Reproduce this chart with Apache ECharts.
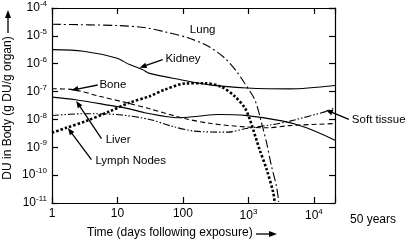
<!DOCTYPE html>
<html>
<head>
<meta charset="utf-8">
<script src="https://cdn.jsdelivr.net/npm/echarts@6/dist/echarts.min.js"></script>
<style>
  html, body { margin: 0; padding: 0; background: #fff; }
  #chart { width: 407px; height: 241px; }
</style>
</head>
<body>
<div id="chart"></div>
<script>
// values (days since exposure, g DU / g organ)
const lungDays = [1, 10, 27.5, 52.5, 119, 240, 434, 655, 874, 1250, 1585, 1900, 2250, 2680, 2900]
const lungDU = [2.6e-5, 2.35e-5, 1.94e-5, 1.4e-5, 8.5e-6, 4.3e-6, 1.6e-6, 5.4e-7, 2.0e-7, 5.1e-8, 7.6e-9, 1.4e-9, 2.1e-10, 4e-11, 1.1e-11]

const kidneyDays = [1, 3, 9.6, 15.3, 24, 31, 89, 272, 940, 4300, 21000]
const kidneyDU = [3.2e-6, 2.8e-6, 1.6e-6, 9.3e-7, 6.2e-7, 4.5e-7, 2.7e-7, 1.7e-7, 1.35e-7, 1.25e-7, 1.65e-7]

const boneDays = [1, 1.96, 5.3, 13.6, 31, 106, 272, 880, 1900, 4300, 21000]
const boneDU = [1.26e-7, 1.2e-7, 6.8e-8, 4e-8, 2.4e-8, 1.08e-8, 7.1e-9, 5.4e-9, 5e-9, 6e-9, 7.1e-9]

const liverDays = [1, 2.3, 7.6, 15.3, 26, 84, 170, 345, 880, 3400, 7700, 21000]
const liverDU = [6.3e-8, 5.1e-8, 3.2e-8, 2.4e-8, 1.74e-8, 1.15e-8, 1.3e-8, 1.5e-8, 1.4e-8, 8.7e-9, 5e-9, 1.8e-9]

const softDays = [1, 3, 9.6, 31, 66, 150, 490, 880, 2400, 4300, 15500, 21000]
const softDU = [1.38e-8, 1.6e-8, 1.5e-8, 1e-8, 5.8e-9, 3.8e-9, 3.5e-9, 4.6e-9, 6.6e-9, 8.7e-9, 1.95e-8, 2.6e-8]

const lymphDays = [1, 1.65, 3.3, 7.6, 15.3, 31, 52.5, 107, 218, 388, 617, 880, 1050, 1480, 1900, 2400, 2520]
const lymphDU = [3.3e-9, 5e-9, 8.7e-9, 1.95e-8, 4e-8, 6.8e-8, 1.17e-7, 1.94e-7, 2.0e-7, 1.47e-7, 6.8e-8, 2.6e-8, 1e-8, 8.3e-10, 1.6e-10, 2.3e-11, 1e-11]

// annotation labels: text anchor and arrow (from -> to) in data space
const notes = [
  { text: 'Lung', at: [200, 1.7e-5], align: 'center' },
  { text: 'Kidney', at: [54, 1.55e-6], align: 'left', from: [49, 1.4e-6], to: [21.8, 7.2e-7] },
  { text: 'Bone', at: [5.3, 1.72e-7], align: 'left', from: [5.0, 1.72e-7], to: [1.97, 1.12e-7] },
  { text: 'Liver', at: [6.6, 1.8e-9], align: 'left', from: [5.7, 2.06e-9], to: [2.34, 4.6e-8] },
  { text: 'Lymph Nodes', at: [4.6, 3.3e-10], align: 'left', from: [4.0, 3.6e-10], to: [1.75, 4.9e-9] },
  { text: 'Soft tissue', at: [38000, 9.5e-9], align: 'left', from: [34200, 1e-8], to: [15200, 2.2e-8] }
]

const FONT = '"Liberation Sans", Arial, Helvetica, sans-serif'

const pairs = (xs, ys) => xs.map((x, i) => [x, ys[i]])

const isPow = v => Math.abs(Math.log10(v) - Math.round(Math.log10(v))) < 1e-6
const expOf = v => Math.round(Math.log10(v))

const chart = echarts.init(document.getElementById('chart'))

const axisLine = { lineStyle: { color: '#000', width: 1.2 } }
const tick = { inside: true, length: 6, lineStyle: { color: '#000', width: 1.2 } }

const lineSeries = (name, data, type, width) => ({
  name: name,
  type: 'line',
  data: data,
  smooth: 0.3,
  symbol: 'none',
  silent: true,
  lineStyle: { color: '#000', width: width, type: type, cap: 'butt' }
})

chart.setOption({
  animation: false,
  backgroundColor: '#fff',
  grid: { left: 52, top: 8, width: 283, height: 195 },
  xAxis: [
    {
      type: 'log', logBase: 10, min: 1, max: 21000, splitNumber: 4,
      position: 'bottom',
      axisLine: axisLine, axisTick: tick, splitLine: { show: false }, minorTick: { show: false },
      axisLabel: {
        margin: 5,
        fontFamily: FONT, fontSize: 12, color: '#000',
        formatter: v => {
          if (!isPow(v)) return ''
          const e = expOf(v)
          return e <= 2 ? String(Math.round(v)) : '10{s|' + e + '}'
        },
        rich: { s: { fontSize: 8, fontFamily: FONT, color: '#000', padding: [0, 0, 8, 0] } }
      }
    },
    {
      type: 'log', logBase: 10, min: 1, max: 21000, splitNumber: 4,
      position: 'top',
      axisLine: axisLine, axisTick: tick, axisLabel: { show: false }, splitLine: { show: false }
    }
  ],
  yAxis: [
    {
      type: 'log', logBase: 10, min: 1e-11, max: 1e-4, splitNumber: 7,
      position: 'left',
      axisLine: axisLine, axisTick: tick, splitLine: { show: false }, minorTick: { show: false },
      axisLabel: {
        margin: 5,
        fontFamily: FONT, fontSize: 12, color: '#000',
        formatter: v => isPow(v) ? '10{s|' + expOf(v) + '}' : '',
        rich: { s: { fontSize: 8, fontFamily: FONT, color: '#000', padding: [0, 0, 8, 0] } }
      }
    },
    {
      type: 'log', logBase: 10, min: 1e-11, max: 1e-4, splitNumber: 7,
      position: 'right',
      axisLine: axisLine, axisTick: tick, axisLabel: { show: false }, splitLine: { show: false }
    }
  ],
  series: [
    lineSeries('Lung', pairs(lungDays, lungDU), [9, 3, 2, 3], 1.1),
    lineSeries('Kidney', pairs(kidneyDays, kidneyDU), 'solid', 1.1),
    lineSeries('Bone', pairs(boneDays, boneDU), [5, 3], 1.1),
    lineSeries('Liver', pairs(liverDays, liverDU), 'solid', 1.1),
    lineSeries('Soft tissue', pairs(softDays, softDU), [7, 2, 1.5, 2, 1.5, 2], 1.1),
    lineSeries('Lymph Nodes', pairs(lymphDays, lymphDU), [2.5, 2], 2.6)
  ]
})

// arrow = shaft + filled head
function arrow(p1, p2, len, half) {
  const dx = p2[0] - p1[0], dy = p2[1] - p1[1]
  const d = Math.hypot(dx, dy), ux = dx / d, uy = dy / d
  const bx = p2[0] - ux * len, by = p2[1] - uy * len
  return [
    { type: 'line', silent: true, shape: { x1: p1[0], y1: p1[1], x2: bx + ux * 1, y2: by + uy * 1 }, style: { stroke: '#000', lineWidth: 1.3 } },
    { type: 'polygon', silent: true, shape: { points: [p2, [bx - uy * half, by + ux * half], [bx + uy * half, by - ux * half]] }, style: { fill: '#000' } }
  ]
}

const toPx = p => chart.convertToPixel({ gridIndex: 0 }, p)

let graphics = []
notes.forEach(n => {
  const a = toPx(n.at)
  graphics.push({
    type: 'text', silent: true, x: a[0], y: a[1],
    style: { text: n.text, font: '11.5px ' + FONT, fill: '#000', align: n.align, verticalAlign: 'middle' }
  })
  if (n.from) graphics = graphics.concat(arrow(toPx(n.from), toPx(n.to), 7, 2.8))
})

// axis titles and their arrows
graphics.push({
  type: 'text', silent: true, x: 87, y: 233,
  style: { text: 'Time (days following exposure)', font: '12px ' + FONT, fill: '#000', align: 'left', verticalAlign: 'middle' }
})
graphics = graphics.concat(arrow([256, 234], [277, 234], 8, 3))
graphics.push({
  type: 'text', silent: true, x: 8, y: 108, rotation: Math.PI / 2,
  style: { text: 'DU in Body (g DU/g organ)', font: '12px ' + FONT, fill: '#000', align: 'center', verticalAlign: 'middle' }
})
graphics = graphics.concat(arrow([8, 33], [8, 10], 8, 3))
graphics.push({
  type: 'text', silent: true, x: 350, y: 220,
  style: { text: '50 years', font: '12px ' + FONT, fill: '#000', align: 'left', verticalAlign: 'middle' }
})

chart.setOption({ graphic: graphics })
</script>
</body>
</html>
